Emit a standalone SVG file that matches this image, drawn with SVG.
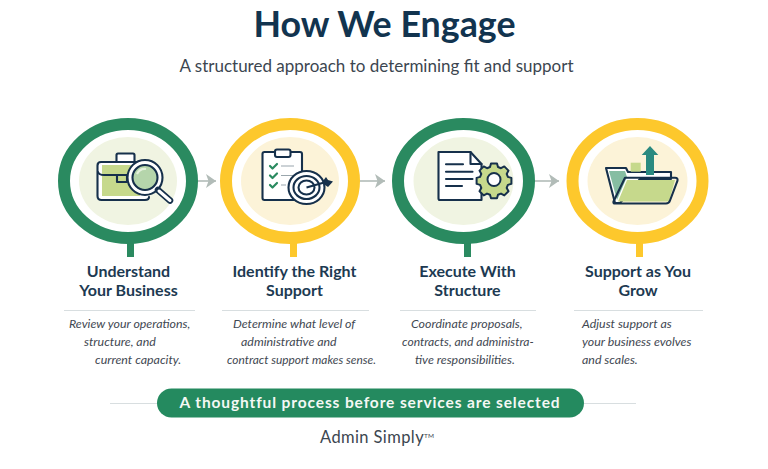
<svg xmlns="http://www.w3.org/2000/svg" width="768" height="469" viewBox="0 0 768 469">
<defs>
<style>
text{font-family:Lato,"Open Sans","Liberation Sans",sans-serif}
.t{font-size:35.800px;font-weight:700;fill:#12344f;text-anchor:middle}
.s{font-size:17px;fill:#3c4650;text-anchor:middle}
.h{font-size:16px;font-weight:700;fill:#1d3a52;text-anchor:middle}
.b{font-size:12.400px;font-style:italic;fill:#3f4852}
.ig{fill:none;stroke:#2a8a60;stroke-width:12}
.iy{fill:none;stroke:#fdc82c;stroke-width:12}
.sg{fill:#2a8a60}.sy{fill:#fdc82c}
.bg{fill:#f0f4e2}.by{fill:#fcf3d8}
.o{fill:none;stroke:#16304b;stroke-width:2.100;stroke-linecap:round;stroke-linejoin:round}
.of{fill:#fff;stroke:#16304b;stroke-width:2.100;stroke-linecap:round;stroke-linejoin:round}
.l{fill:#c6d98c}
.d{stroke:#d8dee0;stroke-width:1;fill:none}
.c{stroke:#b2bcb8;stroke-width:1.600;fill:none;marker-end:url(#ah)}
.ck{fill:none;stroke:#2a8a60;stroke-width:2.200;stroke-linecap:round;stroke-linejoin:round}
.ln{stroke:#9aa6ad;stroke-width:1.200}
</style>
<marker id="ah" markerUnits="userSpaceOnUse" markerWidth="11" markerHeight="14" refX="10" refY="7" orient="auto"><path d="M0 0L10 7L0 14L2.500 7Z" fill="#b2bcb8"/></marker>
</defs>
<rect width="768" height="469" fill="#fff"/>
<g id="header">
<text class="t" x="384.500" y="37">How We Engage</text>
<text class="s" x="376.500" y="72">A structured approach to determining fit and support</text>
</g>
<g id="connectors">
<path class="c" d="M198 181H216"/>
<path class="c" d="M360 181H385"/>
<path class="c" d="M535 181H559"/>
</g>
<g id="node-1">
<rect class="sg" x="127" y="240" width="7" height="17"/>
<ellipse class="ig" cx="128" cy="181" rx="64" ry="57"/>
<ellipse class="bg" cx="128" cy="181" rx="49" ry="44"/>
<rect class="of" x="116.500" y="153.500" width="18" height="10" rx="1.500"/>
<rect x="98" y="162" width="51" height="38" rx="3" fill="#fff"/>
<path class="l" d="M102 165H140V196H102Z"/>
<path class="o" d="M140 162H101q-3.500 0-3.500 3.500V196q0 4 4 4H145q4 0 4-3"/>
<path class="o" d="M98 172q1 3 6 3H117M117 175H127V182H117Z"/>
<circle cx="145" cy="177.500" r="17.500" fill="#fff" stroke="#16304b" stroke-width="2.100"/>
<circle cx="145" cy="177.500" r="12.500" fill="#b5d5ab" stroke="#16304b" stroke-width="2.100"/>
<path d="M137 174q3-6 9-5" fill="none" stroke="#e4f1dc" stroke-width="2.200"/>
<path d="M158 190L170 200.500" stroke="#16304b" stroke-width="6.500" stroke-linecap="round"/>
<path d="M159 191L170 200.500" stroke="#fff" stroke-width="3" stroke-linecap="round"/>
<text class="h"><tspan x="128.500" y="277">Understand</tspan><tspan x="128.500" y="296">Your Business</tspan></text>
<path class="d" d="M64 310.500H195"/>
<text class="b"><tspan x="69" y="328">Review your operations,</tspan><tspan x="84" y="346">structure, and</tspan><tspan x="95" y="364">current capacity.</tspan></text>
</g>
<g id="node-2">
<rect class="sy" x="290" y="240" width="7" height="17"/>
<ellipse class="iy" cx="290" cy="181" rx="64" ry="57"/>
<ellipse class="by" cx="290" cy="181" rx="49" ry="44"/>
<rect class="of" x="262.500" y="152" width="39.500" height="48" rx="2"/>
<rect class="of" x="275" y="149.500" width="15.500" height="7.500" rx="2"/>
<path class="ck" d="M270 166l2.500 2.500 4.500-4.500M270 175.500l2.500 2.500 4.500-4.500M270 185l2.500 2.500 4.500-4.500"/>
<path class="ln" d="M281 166H294M281 175.500H293M281 185H286"/>
<ellipse cx="306.500" cy="187.500" rx="18" ry="16.500" fill="#fff" stroke="#16304b" stroke-width="2.100"/>
<ellipse cx="306.500" cy="187.500" rx="13" ry="11.500" fill="#fff" stroke="#16304b" stroke-width="2.100"/>
<ellipse cx="306.500" cy="187.500" rx="8" ry="7" fill="#fff" stroke="#16304b" stroke-width="2.100"/>
<path d="M306.500 187.500L326 182" stroke="#16304b" stroke-width="2.100"/>
<path d="M323 181L326 177L328 180L333 181.500L328 187L325 185Z" fill="#16304b"/>
<text class="h"><tspan x="294.500" y="277">Identify the Right</tspan><tspan x="294.500" y="296">Support</tspan></text>
<path class="d" d="M222 310.500H369"/>
<text class="b"><tspan x="233" y="328">Determine what level of</tspan><tspan x="241" y="346">administrative and</tspan><tspan x="227" y="364" font-size="11.900">contract support makes sense.</tspan></text>
</g>
<g id="node-3">
<rect class="sg" x="464" y="240" width="7" height="17"/>
<ellipse class="ig" cx="463.500" cy="181" rx="65.500" ry="57"/>
<ellipse class="bg" cx="463.500" cy="181" rx="50" ry="44"/>
<path class="of" d="M438.500 152H470.500L481.500 164V200H440q-1.500 0-1.500-1.500Z"/>
<path class="o" d="M470.500 152V164H481.500"/>
<path class="o" d="M446 164.300H463M446 171.700H472.500M446 179H472.500M446 186H462"/>
<path d="M491 163.500h6l1 3.500 3 1.200 3.300-1.800 4.200 4.200-1.800 3.300 1.200 3 3.500 1v6l-3.500 1-1.200 3 1.800 3.300-4.200 4.200-3.300-1.800-3 1.200-1 3.500h-6l-1-3.500-3-1.200-3.300 1.800-4.200-4.200 1.800-3.300-1.200-3-3.500-1v-6l3.500-1 1.200-3-1.800-3.300 4.200-4.200 3.300 1.800 3-1.200Z" fill="#c6d98c" stroke="#16304b" stroke-width="2" stroke-linejoin="round"/>
<circle cx="494" cy="179.500" r="6.500" fill="#fff" stroke="#16304b" stroke-width="2"/>
<text class="h"><tspan x="467.500" y="277">Execute With</tspan><tspan x="467.500" y="296">Structure</tspan></text>
<path class="d" d="M400 310.500H536"/>
<text class="b"><tspan x="411" y="328">Coordinate proposals,</tspan><tspan x="402" y="346" font-size="12.100">contracts, and administra-</tspan><tspan x="415" y="364">tive responsibilities.</tspan></text>
</g>
<g id="node-4">
<rect class="sy" x="636" y="240" width="7" height="17"/>
<ellipse class="iy" cx="637.500" cy="181" rx="65" ry="57"/>
<ellipse class="by" cx="637.500" cy="181" rx="50" ry="44"/>
<path class="of" d="M606 168H626L628 172H671V179H640L620 203H615Z"/>
<path d="M609 171H625L627 177L617 200Z" fill="#86bda2"/>
<rect class="l" x="630.700" y="162.700" width="10" height="9"/>
<path d="M646 175V155H641.700L650 146L658.300 155H654V175Z" fill="#2a8a80"/>
<path class="l" d="M627 180H675L669 201.500H618Z"/>
<path class="o" d="M625 177.700H675q3 0 2.500 3L670 200.500q-1 3-4 3H615q-2 0-1.500-2Z"/>
<text class="h"><tspan x="638" y="277">Support as You</tspan><tspan x="638" y="296">Grow</tspan></text>
<path class="d" d="M574 310.500H703"/>
<text class="b"><tspan x="582" y="328">Adjust support as</tspan><tspan x="582" y="346">your business evolves</tspan><tspan x="582" y="364">and scales.</tspan></text>
</g>
<g id="footer">
<path class="d" d="M110 403.500H157M584 403.500H636"/>
<rect x="157" y="388.500" width="427" height="29" rx="14.500" fill="#248a5f"/>
<text x="370" y="407.500" text-anchor="middle" font-size="15.500" font-weight="700" letter-spacing="0.880" fill="#f4f8f4">A thoughtful process before services are selected</text>
<text x="320" y="442.500" font-size="16.500" fill="#3c4650" letter-spacing="0.400">Admin Simply<tspan font-size="6.500" dy="-5" letter-spacing="0">TM</tspan></text>
</g>
</svg>
